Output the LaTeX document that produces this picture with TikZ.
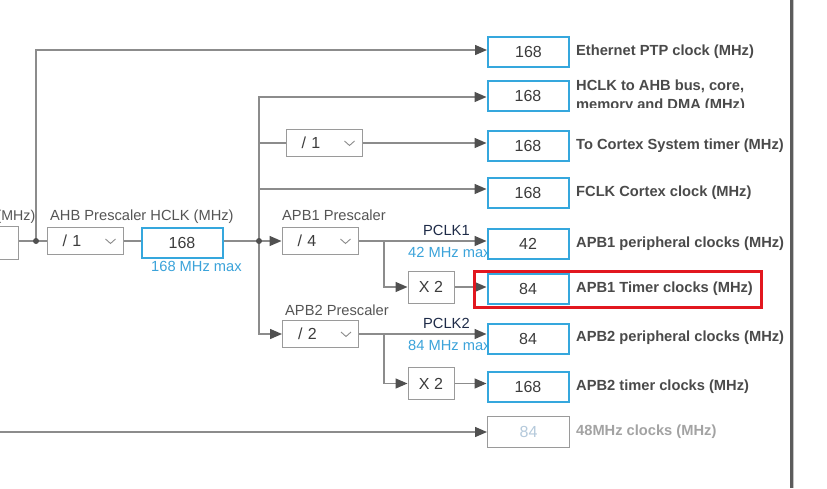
\documentclass[tikz,border=0pt]{standalone}
\usepackage{fontspec}
\setmainfont{Liberation Sans}
\usetikzlibrary{arrows.meta,calc}
\definecolor{linegray}{HTML}{8C8C8C}
\definecolor{arrowgray}{HTML}{505050}
\definecolor{boxgray}{HTML}{9A9A9A}
\definecolor{boxblue}{HTML}{35A7DD}
\definecolor{maxblue}{HTML}{3BA3DA}
\definecolor{labelgray}{HTML}{4A4A4A}
\definecolor{textgray}{HTML}{555555}
\definecolor{numgray}{HTML}{3C3C3C}
\definecolor{navy}{HTML}{1E2B48}
\definecolor{hlred}{HTML}{E2171F}
\definecolor{dimgray}{HTML}{A3A3A3}
\definecolor{dimnum}{HTML}{B4C9DB}
\definecolor{bargray}{HTML}{5C5C5C}
\definecolor{baredge}{HTML}{C4C4C4}
\newcommand\lblfont{\fontsize{14.67}{17}\selectfont}
\newcommand\numfont{\fontsize{16}{19}\selectfont}
\begin{document}
\begin{tikzpicture}[x=1pt,y=-1pt,
  wire/.style={draw=linegray,line width=1.4pt},
  arr/.style={wire,-{Triangle[length=12pt,width=10pt,color=arrowgray]}},
  ddbox/.style={draw=boxgray,line width=1pt,fill=white,minimum height=27pt,inner ysep=0pt,inner xsep=15.5pt,text width=45pt,align=left,font=\numfont,text=numgray,text height=11.5pt,text depth=0pt},
  outbox/.style={draw=boxblue,line width=2pt,fill=white,minimum width=81pt,minimum height=30pt,inner sep=0pt,font=\numfont,text=numgray,text height=11.5pt,text depth=0pt},
  mulbox/.style={draw=boxgray,line width=1pt,fill=white,minimum width=46pt,minimum height=32pt,inner sep=0pt,font=\numfont,text=numgray,text height=11.5pt,text depth=0pt},
  olabel/.style={anchor=west,inner sep=0pt,font=\bfseries\lblfont,text=labelgray,text height=10.5pt,text depth=0pt},
  plabel/.style={anchor=west,inner sep=0pt,font=\lblfont,text=textgray,text height=10.5pt,text depth=0pt},
  maxlabel/.style={plabel,text=maxblue},
  clklabel/.style={plabel,text=navy},
  chev/.style={draw=linegray,line width=0.9pt}]
\useasboundingbox (0,0) rectangle (827,488);
\fill[white] (0,0) rectangle (827,488);

% source and prescalers
\node[draw=boxgray,line width=1pt,fill=white,minimum width=58pt,minimum height=33pt,inner sep=0pt] (src) at (-11,242.5) {};
\coordinate (dot1) at (36,241);
\node[ddbox] (ahb) at (85,241) {/ 1};
\node[outbox] (hclk) at (182,243) {168};
\coordinate (dot2) at (259,241);
\node[ddbox] (apb1) at (320,241) {/ 4};
\node[ddbox] (apb2) at (320.5,334) {/ 2};
\node[ddbox] (sysdiv) at (324,143) {/ 1};
\node[mulbox] (x2a) at (431,287) {X 2};
\node[mulbox] (x2b) at (431,383.5) {X 2};
\coordinate (b1) at (384,241);
\coordinate (b2) at (384,334);
\coordinate (usbsrc) at (-2,432);

% chevrons
\foreach \n in {ahb,apb1,apb2,sysdiv}{
  \draw[chev] ($(\n.east)+(-18,-2)$) -- ++(5,4.5) -- ++(5,-4.5);
}

% labels on the left part
\node[plabel,anchor=east,font=\fontsize{14.2}{17}\selectfont] (mhzl) at (35.5,215) {(MHz)};
\node[plabel] (ahbl) at (50,215) {AHB Prescaler HCLK (MHz)};
\node[maxlabel] (hclkmax) at (151,266) {168 MHz max};
\node[plabel] (apb1l) at (282,215) {APB1 Prescaler};
\node[plabel] (apb2l) at (285,310) {APB2 Prescaler};
\node[clklabel] (pclk1) at (423,230) {PCLK1};
\node[clklabel] (pclk2) at (423,323) {PCLK2};
\node[maxlabel] (max1) at (408,252) {42 MHz max};
\node[maxlabel] (max2) at (408,345) {84 MHz max};

% output boxes
\node[outbox] (eth) at (528.5,52) {168};
\node[outbox] (hclko) at (528,96) {168};
\node[outbox] (cortex) at (528,145.5) {168};
\node[outbox] (fclk) at (528,193) {168};
\node[outbox] (apb1p) at (528,244) {42};
\node[outbox] (tim1) at (528,288.5) {84};
\node[outbox] (apb2p) at (528,339) {84};
\node[outbox] (tim2) at (528,387) {168};
\node[outbox,draw=boxgray,line width=1pt,minimum width=82pt,minimum height=31pt,text=dimnum] (usb) at (528.5,431.5) {84};

% connectors
\draw[wire] (src.east |- dot1) -- (dot1) -- (ahb.west);
\draw[arr] (dot1) |- ($(eth.west)+(0,-2)$);
\draw[wire] (ahb.east) -- (ahb.east -| hclk.west);
\draw[wire] (dot2 -| hclk.east) -- (dot2);
\draw[arr] (dot2) -- (apb1.west);
\draw[arr] (dot2) |- ($(hclko.west)+(0,1)$);
\draw[wire] (dot2) |- (sysdiv.west);
\draw[arr] (sysdiv.east) -- (sysdiv.east -| cortex.west);
\draw[arr] (dot2) |- ($(fclk.west)+(0,-4)$);
\draw[arr] (dot2) |- (apb2.west);
\draw[arr] (apb1.east) -- (apb1.east -| apb1p.west);
\draw[arr] (b1) |- (x2a.west);
\draw[arr] (x2a.east) -- (x2a.east -| tim1.west);
\draw[arr] (apb2.east) -- (apb2.east -| apb2p.west);
\draw[arr] (b2) |- (x2b.west);
\draw[arr] (x2b.east) -- (x2b.east -| tim2.west);
\draw[arr] (usbsrc) -- (usbsrc -| usb.west);
\fill[arrowgray] (dot1) circle (3pt);
\fill[arrowgray] (dot2) circle (3pt);

% output labels
\node[olabel] (ethl) at (576,50.5) {Ethernet PTP clock (MHz)};
\begin{scope}
  \clip (570,60) rectangle (785,107.5);
  \node[olabel] (hclkl1) at (576,85) {HCLK to AHB bus, core,};
  \node[olabel] (hclkl2) at (576,104) {memory and DMA (MHz)};
\end{scope}
\node[olabel] (cortexl) at (576,144) {To Cortex System timer (MHz)};
\node[olabel] (fclkl) at (576,191) {FCLK Cortex clock (MHz)};
\node[olabel] (apb1pl) at (576,242) {APB1 peripheral clocks (MHz)};
\node[olabel] (tim1l) at (576,287) {APB1 Timer clocks (MHz)};
\node[olabel] (apb2pl) at (576,336) {APB2 peripheral clocks (MHz)};
\node[olabel] (tim2l) at (576,385) {APB2 timer clocks (MHz)};
\node[olabel,text=dimgray] (usbl) at (576,430) {48MHz clocks (MHz)};

% highlight
\node[draw=hlred,line width=2.8pt,minimum width=287pt,minimum height=36pt,inner sep=0pt] (hl) at (618,289.5) {};

% right bar
\draw[line width=3pt,bargray] (791,0) -- (791,488);
\draw[line width=1pt,baredge] (793.2,0) -- (793.2,488);
\end{tikzpicture}
\end{document}
